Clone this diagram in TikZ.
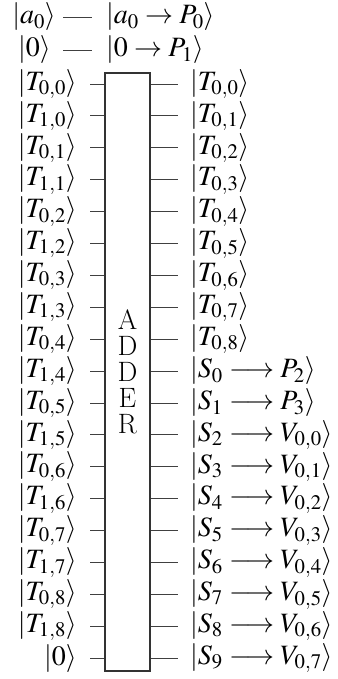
\documentclass[tikz,border=0pt]{standalone}
\usepackage{mathptmx}
\begin{document}
\begin{tikzpicture}[x=1pt,y=-1pt,
  every node/.style={font=\fontsize{28}{26}\selectfont, inner ysep=-2pt},
  wire/.style={line width=0.9pt, draw=black!75},
  boxst/.style={draw=black!80, line width=1.1pt, minimum width=45pt, minimum height=598pt, inner sep=0pt, align=center, font=\fontsize{28}{26}\selectfont}]
\useasboundingbox (0,0) rectangle (337,679);
% top rows
\node[anchor=east, inner xsep=7pt] (a0) at (63,17) {$|a_0\rangle$};
\node[anchor=west, inner xsep=14pt] (a0o) at (92,17) {$|a_0\to P_0\rangle$};
\draw[wire] (a0.east) -- (a0o.west);
\node[anchor=east, inner xsep=12pt] (z0) at (63,50) {$|0\rangle$};
\node[anchor=west, inner xsep=14pt] (z0o) at (92,50) {$|0\to P_1\rangle$};
\draw[wire] (z0.east) -- (z0o.west);
% adder box
\node[boxst] (adder) at (127.5,372) {A\\D\\D\\E\\R};
% left labels
\foreach \lab [count=\i from 0] in {{T_{0,0}},{T_{1,0}},{T_{0,1}},{T_{1,1}},{T_{0,2}},{T_{1,2}},{T_{0,3}},{T_{1,3}},{T_{0,4}},{T_{1,4}},{T_{0,5}},{T_{1,5}},{T_{0,6}},{T_{1,6}},{T_{0,7}},{T_{1,7}},{T_{0,8}},{T_{1,8}},{0}} {
  \node[anchor=east, inner xsep=13pt] (l\i) at (90,{84+31.9*\i}) {$|\lab\rangle$};
  \draw[wire] (l\i.east) -- (l\i.east -| adder.west);
}
% right labels
\foreach \lab [count=\i from 0] in {{T_{0,0}},{T_{0,1}},{T_{0,2}},{T_{0,3}},{T_{0,4}},{T_{0,5}},{T_{0,6}},{T_{0,7}},{T_{0,8}},{S_0\longrightarrow P_2},{S_1\longrightarrow P_3},{S_2\longrightarrow V_{0,0}},{S_3\longrightarrow V_{0,1}},{S_4\longrightarrow V_{0,2}},{S_5\longrightarrow V_{0,3}},{S_6\longrightarrow V_{0,4}},{S_7\longrightarrow V_{0,5}},{S_8\longrightarrow V_{0,6}},{S_9\longrightarrow V_{0,7}}} {
  \node[anchor=west, inner xsep=12pt] (r\i) at (178,{84+31.9*\i}) {$|\lab\rangle$};
  \draw[wire] (r\i.west -| adder.east) -- (r\i.west);
}
\end{tikzpicture}
\end{document}
